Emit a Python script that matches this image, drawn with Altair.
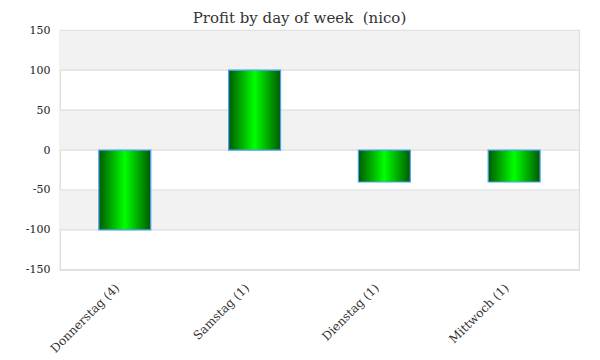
import altair as alt
import pandas as pd

days = ["Donnerstag (4)", "Samstag (1)", "Dienstag (1)", "Mittwoch (1)"]
profit = [-100, 100, -40, -40]
band_lo = [100, 0, -100]
band_hi = [150, 50, -50]
y_ticks = [-150, -100, -50, 0, 50, 100, 150]

bars_df = pd.DataFrame({"day": days, "profit": profit})
bands_df = pd.DataFrame({"lo": band_lo, "hi": band_hi})
grid_df = pd.DataFrame({"v": y_ticks})

FONT = "DejaVu Serif"

yscale = alt.Scale(domain=[-150, 150], nice=False)
yaxis = alt.Axis(values=y_ticks, labelFont=FONT, labelFontSize=11,
                 labelColor="#222222", ticks=False, domain=False, grid=False,
                 labelOverlap=False, labelFlush=False,
                 labelExpr="replace(datum.label, '\u2212', '-')",
                 labelPadding=10, title=None)

bands = alt.Chart(bands_df).mark_rect(color="#f2f2f2").encode(
    y=alt.Y("lo:Q", scale=yscale, axis=yaxis, title=None),
    y2="hi:Q",
)

grid = alt.Chart(grid_df).mark_rule(color="#dedede", strokeWidth=1.2).encode(
    y=alt.Y("v:Q", scale=yscale, axis=yaxis, title=None),
)

grad = alt.Gradient(
    gradient="linear",
    x1=0, x2=1, y1=0, y2=0,
    stops=[
        alt.GradientStop(color="#005a00", offset=0),
        alt.GradientStop(color="#00ff00", offset=0.5),
        alt.GradientStop(color="#005a00", offset=1),
    ],
)

bars = alt.Chart(bars_df).mark_bar(
    color=grad, stroke="#4d9fff", strokeWidth=1.2,
    width=alt.RelativeBandSize(0.4),
).encode(
    x=alt.X("day:N", sort=None, title=None,
            scale=alt.Scale(paddingInner=0, paddingOuter=0),
            axis=alt.Axis(labelAngle=-45, labelAlign="right", labelBaseline="top",
                          labelFont=FONT, labelFontSize=12, labelColor="#333333",
                          labelOverlap=False, labelLimit=200,
                          ticks=False, domain=False, labelPadding=12, labelOffset=-11)),
    y=alt.Y("profit:Q", scale=yscale, axis=yaxis, title=None),
    y2=alt.datum(0),
)

chart = alt.layer(bands, grid, bars).properties(
    width=520, height=240,
    padding={"left": 17, "top": 3, "right": 12, "bottom": 4},
    autosize=alt.AutoSizeParams(type="pad"),
    title=alt.TitleParams("Profit by day of week\u00a0 (nico)", font=FONT, fontSize=15,
                          fontWeight="normal", color="#333333", anchor="middle",
                          dx=-20, offset=-2),
).configure_view(stroke="#d9d9d9", strokeWidth=1.2)

chart.save("out.html", embed_options={"renderer": "svg", "actions": False})
